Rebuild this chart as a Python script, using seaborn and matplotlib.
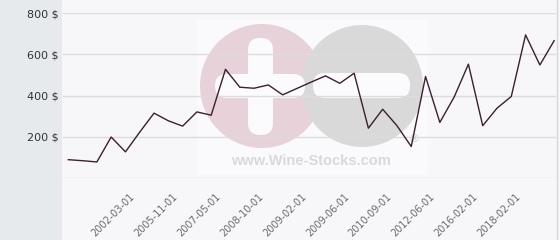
import numpy as np
import pandas as pd
import matplotlib
matplotlib.use("Agg")
import matplotlib.pyplot as plt
from matplotlib.patches import Rectangle, Circle, FancyBboxPatch
from matplotlib.lines import Line2D
import seaborn as sns

# ---- data ----
prices = [89, 84, 78, 199, 127, 223, 315, 278, 252, 321, 305, 528,
          441, 436, 452, 404, 435, 466, 496, 460, 509, 242, 334, 254,
          153, 493, 270, 393, 553, 254, 339, 396, 695, 549, 667]
tick_positions = [4, 7, 10, 13, 16, 19, 22, 25, 28, 31]
tick_labels = ["2002-03-01", "2005-11-01", "2007-05-01", "2008-10-01",
               "2009-02-01", "2009-06-01", "2010-09-01", "2012-06-01",
               "2016-02-01", "2018-02-01"]
y_ticks = [200, 400, 600, 800]
y_tick_labels = ["200 $", "400 $", "600 $", "800 $"]

df = pd.DataFrame({"idx": np.arange(len(prices)), "price": prices})

W, H = 560, 240
fig = plt.figure(figsize=(W / 100, H / 100), dpi=100)
fig.patch.set_facecolor("#f7f7fa")

# left grey panel
fig.patches.append(Rectangle((0, 0), 62 / W, 1, transform=fig.transFigure,
                             facecolor="#e7eaed", edgecolor="none", zorder=0))
# right border line
fig.lines.append(Line2D([557 / W, 557 / W], [0, 1], transform=fig.transFigure,
                        color="#d6d6d8", lw=1.0, zorder=0))

# ---- watermark layer (pixel coordinates) ----
wm = fig.add_axes([0, 0, 1, 1], zorder=0)
wm.set_xlim(0, W)
wm.set_ylim(H, 0)
wm.axis("off")
wm.patch.set_alpha(0)
wm.add_patch(Rectangle((197, 20), 231, 155, facecolor="white", alpha=0.45,
                       edgecolor="none"))
wm.add_patch(Circle((262, 86), 62, facecolor="#e8d2d9", edgecolor="none"))
wm.add_patch(Circle((362, 86), 61, facecolor="#d9d9da", edgecolor="none"))
bs = "round,pad=0,rounding_size=12"
wm.add_patch(FancyBboxPatch((248, 38), 25, 97, boxstyle=bs,
                            facecolor="#fbfbfd", edgecolor="none"))
wm.add_patch(FancyBboxPatch((215, 74), 90, 24, boxstyle=bs,
                            facecolor="#fbfbfd", edgecolor="none"))
wm.add_patch(FancyBboxPatch((313, 73), 97, 25, boxstyle=bs,
                            facecolor="#fbfbfd", edgecolor="none"))
wm.text(311, 161, "www.Wine-Stocks.com", ha="center", va="center",
        fontsize=10.5, fontweight="bold", color="#d9d9db",
        family="Liberation Sans")
wm.text(414, 139, "®", ha="center", va="center", fontsize=8,
        color="#d2d2d4", family="DejaVu Sans")

# ---- main chart ----
ax = fig.add_axes([63 / W, (H - 178) / H, (556 - 63) / W, (178 - 13.3) / H],
                  zorder=1)
ax.patch.set_alpha(0)
sns.lineplot(data=df, x="idx", y="price", ax=ax, color="#3b1f2e",
             linewidth=1.0, clip_on=False, zorder=3)
ax.set_xlim((63 - 68.3) / 14.29, (556 - 68.3) / 14.29)
ax.set_ylim(0, 800)
for s in ax.spines.values():
    s.set_visible(False)
ax.set_xlabel("")
ax.set_ylabel("")

for v in [0] + y_ticks:
    ax.axhline(v, color="#dcdcdf", lw=1.0, zorder=1)

ax.set_yticks(y_ticks)
ax.set_yticklabels(y_tick_labels, fontsize=8, color="#333333",
                   family="DejaVu Sans")
ax.tick_params(axis="y", length=0, pad=3)

ax.set_xticks(tick_positions)
ax.set_xticklabels([])
ax.tick_params(axis="x", length=0)
for pos, lab in zip(tick_positions, tick_labels):
    ax.annotate(lab, xy=(pos, 0), xycoords=("data", "axes fraction"),
                xytext=(4, -13.3), textcoords="offset pixels",
                rotation=45, ha="right", va="top", rotation_mode="anchor",
                fontsize=7, color="#6a6a6a", family="DejaVu Sans",
                annotation_clip=False)

fig.savefig("out.png", dpi=100, facecolor=fig.get_facecolor())
